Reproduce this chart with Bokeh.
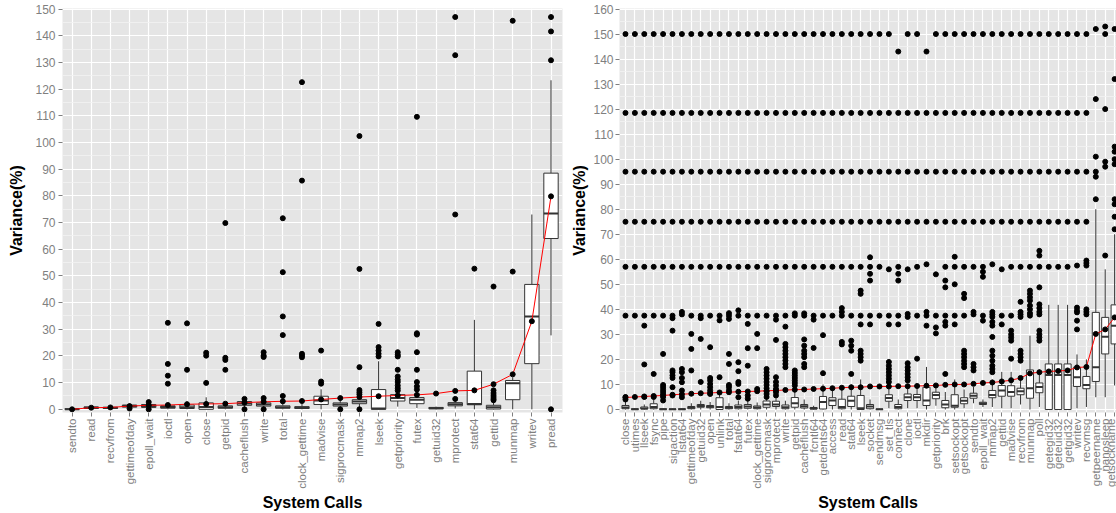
import numpy as np
from bokeh.plotting import figure
from bokeh.layouts import row
from bokeh.models import FixedTicker, SingleIntervalTicker, Range1d
from bokeh.embed import file_html
from bokeh.resources import INLINE

# ---------------- Left panel data ----------------
L_cats = ["sendto", "read", "recvfrom", "gettimeofday", "epoll_wait", "ioctl", "open", "close",
          "getpid", "cacheflush", "write", "total", "clock_gettime", "madvise", "sigprocmask",
          "mmap2", "lseek", "getpriority", "futex", "getuid32", "mprotect", "stat64", "gettid",
          "munmap", "writev", "pread"]
L_q1 = [0.0, 0.3, 0.3, 0.8, 0.7, 0.4, 0.3, 0.0, 0.4, 1.5, 1.2, 0.4, 0.3, 1.8, 1.2, 2.1, 0.0, 3.1, 2.1, 0.2, 1.3, 1.7, 0.1, 3.6, 17.1, 64.0]
L_med = [0.0, 0.6, 0.5, 1.2, 1.2, 0.9, 0.8, 0.9, 0.8, 2.2, 1.8, 0.8, 0.6, 3.3, 1.8, 2.9, 0.3, 4.2, 3.6, 0.4, 1.9, 2.0, 0.8, 9.8, 34.8, 73.4]
L_q3 = [0.2, 0.9, 0.8, 1.6, 1.8, 1.3, 1.6, 2.4, 1.3, 2.9, 2.4, 1.3, 1.0, 4.9, 2.4, 3.6, 7.4, 5.5, 4.4, 0.7, 2.5, 14.3, 1.5, 10.8, 46.8, 88.5]
L_lo = [0.0, 0.0, 0.0, 0.3, 0.0, 0.0, 0.0, 0.0, 0.0, 0.5, 0.5, 0.0, 0.0, 0.0, 0.3, 0.8, 0.0, 1.0, 0.5, 0.0, 0.3, 0.0, 0.0, 0.0, 0.0, 27.7]
L_hi = [0.3, 1.2, 1.1, 2.2, 2.5, 2.5, 3.0, 4.5, 2.5, 3.5, 3.8, 2.6, 2.0, 7.5, 4.0, 4.8, 18.0, 7.0, 7.0, 1.0, 4.0, 33.5, 3.0, 12.0, 73.0, 123.3]
L_mean = [0.0, 0.6, 0.7, 1.2, 1.5, 1.6, 1.9, 2.0, 2.1, 2.5, 2.8, 3.0, 3.1, 3.7, 4.2, 4.6, 4.9, 5.2, 5.4, 5.9, 6.9, 7.1, 9.4, 13.1, 33.0, 79.8]
L_out = [[], [], [], [0.3], [2.7, 0.0], [32.4, 17.0, 12.6, 9.6], [32.2, 14.8], [21.2, 20.1, 9.9],
         [69.8, 19.3, 18.5, 14.8], [3.9, 0.0], [21.4, 20.1, 19.6, 4.2, 0.0],
         [71.6, 51.4, 34.8, 27.8, 5.0], [122.6, 85.7, 20.8, 20.2, 19.5], [22.0, 10.4, 9.6],
         [0.0], [102.4, 52.6, 15.8, 7.2, 6.4, 5.6, 0.0], [32.0, 23.3, 22.0, 20.8, 19.8],
         [21.4, 20.4, 19.8, 14.8, 12.3, 11.1, 10.2, 8.9, 7.9, 7.0],
         [109.6, 28.5, 28.0, 21.4, 14.8, 10.2, 8.6, 7.4], [], [147.0, 132.7, 73.0, 3.9],
         [52.7], [46.0, 7.1, 6.1, 5.3, 4.6, 3.9, 3.4], [145.6, 51.6], [], [147.0, 141.6, 130.8, 0.0]]

# ---------------- Right panel data ----------------
R_cats = ["close", "utimes", "llseek", "fsync", "pipe", "sigaction", "lstat64", "gettimeofday",
          "getuid32", "open", "unlink", "total", "fstat64", "futex", "clock_gettime", "sigprocmask",
          "mprotect", "write", "getpid", "cacheflush", "fcntl64", "getdents64", "access", "read",
          "stat64", "lseek", "socket", "sendmsg", "set_tls", "connect", "clone", "ioctl", "mkdir",
          "getpriority", "brk", "setsockopt", "getsockopt", "sendto", "epoll_wait", "mmap2",
          "gettid", "madvise", "recvfrom", "munmap", "poll", "getegid32", "geteuid32", "getgid32",
          "writev", "recvmsg", "getpeername", "nanosleep", "getsockname"]
R_q1 = [0.3, 0.0, 0.2, 0.3, 0.0, 0.0, 0.0, 0.3, 0.9, 0.7, 0.0, 0.3, 0.3, 0.5, 0.3, 0.9, 1.2, 0.3, 0.9, 0.6,
        0.2, 0.2, 1.6, 0.3, 1.2, 0.0, 0.3, 0.0, 3.3, 0.3, 3.6, 3.6, 1.6, 4.3, 0.7, 0.9, 2.3, 4.5, 2.0, 4.7,
        5.3, 5.3, 5.9, 4.5, 6.7, 0.0, 0.0, 0.0, 9.2, 8.3, 11.2, 22.2, 26.2]
R_med = [0.8, 0.1, 0.4, 1.0, 0.1, 0.1, 0.1, 0.7, 1.4, 1.1, 1.0, 0.7, 1.0, 1.2, 0.8, 2.0, 2.0, 0.9, 2.5, 1.3,
         0.4, 3.0, 3.6, 1.0, 3.5, 0.5, 1.2, 0.05, 4.6, 1.0, 4.9, 4.9, 3.6, 5.8, 2.0, 1.5, 3.5, 5.5, 2.4, 5.8,
         7.6, 7.0, 7.3, 8.5, 9.0, 13.8, 13.8, 13.8, 12.9, 9.8, 16.9, 29.1, 33.5]
R_q3 = [1.6, 0.3, 1.0, 2.3, 0.3, 0.2, 0.3, 1.2, 2.0, 1.6, 4.7, 1.2, 1.8, 2.0, 1.4, 3.4, 3.3, 1.8, 4.8, 2.0,
        0.8, 5.2, 4.7, 4.1, 5.3, 5.6, 2.0, 0.15, 5.9, 2.0, 6.2, 6.0, 8.9, 6.9, 3.6, 5.9, 4.7, 6.5, 2.9, 7.6,
        9.6, 9.5, 8.5, 15.8, 10.6, 18.2, 18.2, 18.2, 16.9, 13.2, 38.8, 36.8, 41.8]
R_lo = [0.0] * 28 + [0.5, 0.0, 0.5, 0.5, 0.0, 1.5, 0.0, 0.0, 0.5, 2.5, 1.0, 1.0, 0.5, 0.5, 2.0, 0.0, 1.0,
                     0.0, 0.0, 0.0, 0.5, 1.0, 4.9, 4.9, 9.6]
R_hi = [4.0, 0.5, 2.0, 4.0, 0.5, 0.3, 0.5, 2.5, 3.5, 3.0, 6.5, 2.5, 3.5, 4.0, 2.8, 4.5, 4.5, 3.5, 8.0, 4.0,
        1.5, 10.0, 9.0, 8.0, 10.0, 12.0, 4.0, 0.3, 9.0, 4.0, 10.0, 10.0, 17.0, 10.0, 7.0, 12.0, 8.0, 9.0,
        4.0, 12.0, 15.0, 15.0, 12.0, 29.5, 16.0, 41.8, 41.8, 41.8, 22.0, 20.0, 80.0, 56.0, 70.0]
R_mean = [4.8, 5.0, 5.2, 5.4, 5.6, 5.9, 6.1, 6.3, 6.5, 6.6, 6.8, 6.9, 7.1, 7.2, 7.3, 7.5, 7.6, 7.8, 7.9,
          8.0, 8.2, 8.3, 8.5, 8.7, 8.9, 8.9, 9.2, 9.2, 9.2, 9.3, 9.3, 9.4, 9.5, 9.6, 9.85, 10.0, 10.0,
          10.25, 10.6, 10.8, 11.2, 11.7, 12.6, 14.4, 14.9, 15.2, 15.4, 15.6, 16.8, 17.0, 30.2, 32.0, 36.8]
R_upper = [150.0, 118.5, 95.0, 75.0]
R_upper_alt = [143.0, 118.5, 95.0, 75.0]
R_extra = [
    [57, 37.5, 5.0, 4.0],
    [57, 37.5],
    [57, 37.5, 33.5, 18.0, 5.0],
    [57, 37.5, 14.2, 5.0],
    [57, 37.5, 22.2, 9.8, 8.9, 7.9, 7.0, 6.0, 5.0, 3.6],
    [57, 37.5, 36.5, 31.5, 15.6, 14.9, 13.6, 12.6, 8.9, 5.6],
    [57, 39.0, 38.0, 16.2, 14.9, 12.6, 10.9, 7.6, 4.9],
    [57, 37.5, 30.2, 24.2, 15.6],
    [57, 37.5, 36.5, 28.2, 11.0],
    [57, 37.5, 24.9, 12.6, 11.6, 10.2, 8.9, 7.6, 6.2],
    [57, 37.5, 35.6, 12.9],
    [57, 38.5, 37.5, 36.2, 22.2, 18.2, 9.8, 8.9, 7.6],
    [57, 39.6, 37.5, 18.9, 15.3, 11.0, 10.2, 4.9],
    [57, 37.5, 34.2, 24.5, 17.5, 5.6, 4.3],
    [57, 37.5, 30.2, 24.5, 8.2],
    [57, 37.5, 16.2, 14.9, 13.6, 12.3, 11.0, 9.8, 8.5, 7.2, 6.2, 5.0],
    [57, 37.5, 35.9, 27.8, 12.9, 11.0, 9.6, 8.2, 6.9, 5.6],
    [57, 37.5, 33.1, 26.2, 24.9, 23.5, 22.2, 20.9, 19.6, 18.2, 16.9],
    [57, 38.4, 37.5, 15.6, 14.6, 13.6, 12.6, 11.6, 10.6, 9.6],
    [57, 38.4, 37.5, 28.0, 25.5, 23.5, 22.2, 20.9, 18.2, 16.9],
    [57, 37.5, 35.9, 24.6],
    [57, 37.5, 29.7, 14.5],
    [57, 37.5],
    [57, 40.5, 39.0, 37.5, 27.0, 26.0],
    [57, 37.5, 27.5, 25.5, 23.5, 14.2],
    [57, 47.5, 46.2, 37.5, 34.0, 23.5, 22.2, 20.9, 19.5],
    [60.8, 57, 54.2, 51.5, 37.5, 34.0],
    [57, 37.5],
    [56, 37.5, 34.0, 19.0, 17.5, 16.2, 14.9, 13.6, 12.3, 11.0],
    [57, 54.2, 51.5, 37.5, 34.0],
    [56, 38.2, 37.0, 18.5, 16.9, 15.6, 14.2, 12.9, 11.6],
    [57, 37.5, 20.3],
    [58, 39.0, 37.5, 33.5],
    [54, 37.5, 32.8, 30.4],
    [57, 51.5, 48.8, 37.5, 35.0, 33.5, 14.2],
    [61, 57, 50, 37.5, 34.0],
    [57, 46.2, 44.5, 37.5, 23.5, 22.2, 20.9, 19.5, 18.2, 16.9],
    [57, 39.0, 38.0, 18.2, 16.9, 15.6],
    [57, 55, 53, 37.5, 35.5],
    [58, 39.0, 38.0, 37.0, 35.0, 33.5, 29.0, 23.5, 21.5, 19.5, 17.5, 16.2, 14.9],
    [56, 37.5, 34.0],
    [57, 37.5, 31.5, 30.0, 28.8, 27.5, 20.3],
    [57, 43.0, 39.0, 38.0, 37.0, 23.5, 22.2, 20.9, 19.5],
    [57, 47.5, 46.2, 44.8, 43.5, 41.5, 40.0, 38.5, 37.5],
    [63.4, 61.5, 57, 48.8, 42.0, 40.5, 39.0, 38.0, 31.5, 30.0, 28.8, 27.5],
    [57],
    [57],
    [57],
    [57.5, 40.7, 39.5, 38.8, 35.5, 32.0],
    [59.5, 58.5, 57.5, 40.0, 39.0, 38.0],
]
R_shifted = [29, 32]
R_out = [(R_upper_alt if i in R_shifted else R_upper) + e for i, e in enumerate(R_extra)] + [
    [152, 124, 101, 95, 93, 84],
    [153, 150, 120, 99, 97, 61.5],
    [152, 132, 105, 103, 100, 98, 84, 82, 77, 72],
]

FONT = "Liberation Sans"
GREY_TXT = "#7F7F7F"
BOX_LINE = "#333333"


def make_panel(cats, q1, med, q3, lo, hi, mean, outs, width, x_range, y_range,
               border_left, border_right, lab_standoff, title_standoff):
    p = figure(width=width, height=513, output_backend="svg", toolbar_location=None,
               x_range=Range1d(*x_range), y_range=Range1d(*y_range),
               min_border_left=border_left, min_border_right=border_right,
               min_border_top=8, min_border_bottom=101)
    p.background_fill_color = "#E5E5E5"
    p.border_fill_color = "white"
    p.outline_line_color = None
    n = len(cats)
    xs = list(range(1, n + 1))
    p.xaxis.ticker = FixedTicker(ticks=xs)
    p.xaxis.major_label_overrides = {i + 1: c for i, c in enumerate(cats)}
    p.xaxis.major_label_orientation = np.pi / 2
    p.yaxis.ticker = SingleIntervalTicker(interval=10, num_minor_ticks=2)
    for ax in (p.xaxis[0], p.yaxis[0]):
        ax.axis_line_color = None
        ax.major_tick_line_color = GREY_TXT
        ax.major_tick_out = 4
        ax.major_tick_in = 0
        ax.minor_tick_line_color = None
        ax.major_label_text_color = GREY_TXT
        ax.major_label_text_font = FONT
        ax.major_label_text_font_size = "12px"
        ax.axis_label_text_font = FONT
        ax.axis_label_text_font_style = "bold"
        ax.axis_label_text_font_size = "16px"
        ax.axis_label_text_color = "black"
    p.xaxis.major_label_text_font_size = "11.5px"
    p.xaxis.major_label_standoff = 2
    p.xaxis.axis_label_standoff = 2
    p.yaxis.major_label_standoff = lab_standoff
    p.yaxis.axis_label_standoff = title_standoff
    p.xaxis.axis_label = "System Calls"
    p.yaxis.axis_label = "Variance(%)"
    p.xgrid.grid_line_color = "white"
    p.xgrid.grid_line_width = 1.2
    p.ygrid.grid_line_color = "white"
    p.ygrid.grid_line_width = 1.2
    p.ygrid.minor_grid_line_color = "#F2F2F2"
    p.ygrid.minor_grid_line_width = 0.8

    bw = 0.75
    p.segment(x0=xs, y0=lo, x1=xs, y1=q1, line_color=BOX_LINE, line_width=1)
    p.segment(x0=xs, y0=q3, x1=xs, y1=hi, line_color=BOX_LINE, line_width=1)
    p.vbar(x=xs, width=bw, bottom=q1, top=q3, fill_color="white", line_color=BOX_LINE, line_width=1)
    p.segment(x0=[x - bw / 2 for x in xs], y0=med, x1=[x + bw / 2 for x in xs], y1=med,
              line_color=BOX_LINE, line_width=2)
    ox, oy = [], []
    for x, vals in zip(xs, outs):
        for v in vals:
            ox.append(x)
            oy.append(v)
    p.scatter(ox, oy, size=5, color="black")
    p.line(xs, mean, line_color="red", line_width=1)
    p.scatter(xs, mean, size=5, color="black")
    return p


pl = make_panel(L_cats, L_q1, L_med, L_q3, L_lo, L_hi, L_mean, L_out, 568,
                (0.5, 26.6), (-1.2, 150.2), 62, 6, 3, 7)
pr = make_panel(R_cats, R_q1, R_med, R_q3, R_lo, R_hi, R_mean, R_out, 548,
                (0.364, 53.2), (-1.2, 160.2), 49, 0, 2, 2)

layout = row(pl, pr)
open("out.html", "w").write(file_html(layout, INLINE))
